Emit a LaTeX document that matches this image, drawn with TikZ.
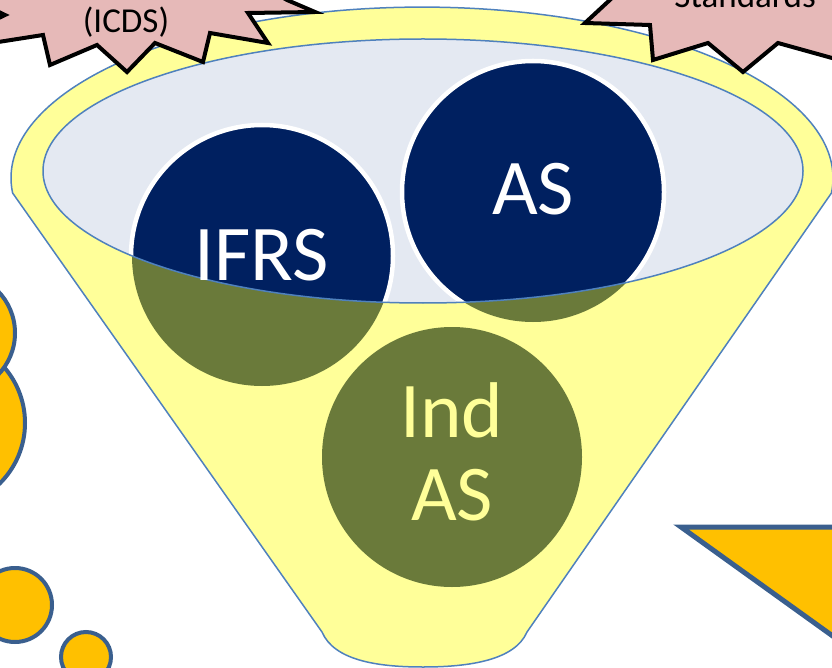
\documentclass[tikz,border=0pt]{standalone}
\usepackage{fontspec}
\setmainfont{Carlito}
\usepackage{tikz}

\definecolor{funnelfill}{HTML}{FFFF99}
\definecolor{funnelline}{HTML}{4F81BD}
\definecolor{mouthfill}{HTML}{E4E9F2}
\definecolor{navy}{HTML}{002060}
\definecolor{olive}{HTML}{6A7A3A}
\definecolor{starpink}{HTML}{E6B9B8}
\definecolor{gold}{HTML}{FFC000}
\definecolor{goldline}{HTML}{3A5F8E}

\begin{document}
\begin{tikzpicture}[x=1pt,y=-1pt,
	bigfont/.style={font=\fontsize{79}{83}\selectfont},
	starfont/.style={font=\fontsize{35}{40}\selectfont},
	ball/.style={circle,fill=olive,minimum size=260pt,inner sep=0pt},
	bubble/.style={fill=gold,draw=goldline,line width=4pt},
	star/.style={fill=starpink,draw=black,line width=4pt,line join=miter}]
		\useasboundingbox (0,0) rectangle (832,668);
		\clip (0,0) rectangle (832,668);
		% funnel
		\draw[fill=funnelfill,draw=funnelline,line width=1.5pt]
		(12.6,193) arc[start angle=185,end angle=-5,x radius=411pt,y radius=171pt]
		-- (527,632) .. controls (515,660) and (470,667) .. (423,667)
		.. controls (376,667) and (334,660) .. (322,632) -- cycle;
		% circles
		\node[ball] (ifrs) at (262,256) {};
		\node[ball] (as) at (533,192) {};
		\node[ball] (indas) at (452,457) {};
		% mouth of the funnel
		\coordinate (mouth) at (423,171);
		\fill[mouthfill] (mouth) ellipse [x radius=380pt,y radius=132pt];
		\begin{scope}
		\clip (mouth) ellipse [x radius=380pt,y radius=132pt];
		\draw[fill=navy,draw=white,line width=4.5pt] (ifrs.center) circle[radius=131pt];
		\draw[fill=navy,draw=white,line width=4.5pt] (as.center) circle[radius=131pt];
		\end{scope}
		\draw[funnelline,line width=1.5pt] (mouth) ellipse [x radius=380pt,y radius=132pt];
		% labels
		\node[bigfont,text=white,anchor=base] (ifrslabel) at (262,280) {IFRS};
		\node[bigfont,text=white,anchor=base] (aslabel) at (533,215) {AS};
		\node[bigfont,text=funnelfill,anchor=base] (indlabel) at (452,437) {Ind};
		\node[bigfont,text=funnelfill,anchor=base] (indaslabel) at (452,520) {AS};
		% bursts
		\draw[star] (43,35) -- (50,65) -- (97,45) -- (127,72) -- (155,43) -- (203,62)
		-- (210,33) -- (268,43) -- (248,13) -- (315,12) -- (287,0) -- (270,-10)
		-- (-40,-10) -- (-20,3) -- (5,15) -- (-20,27) -- (-40,48) -- cycle;
		\node[starfont,anchor=base] (icds) at (126,33) {(ICDS)};
		\draw[star] (626,-15) -- (585,23) -- (650,25) -- (653,60) -- (708,43)
		-- (743,72) -- (778,43) -- (850,63) -- (850,-15) -- cycle;
		\node[starfont,anchor=base] (standards) at (745,8) {Standards};
		% thought bubbles
		\draw[bubble] (-60,423) circle[radius=85pt];
		\draw[bubble] (-45,333) circle[radius=60pt];
		\draw[bubble] (15,605) circle[radius=37pt];
		\draw[bubble] (86,657) circle[radius=25pt];
		% arrow corner
		\draw[bubble,line width=5pt,line join=miter] (681,527) -- (880,527) -- (880,670) -- cycle;
\end{tikzpicture}
\end{document}
